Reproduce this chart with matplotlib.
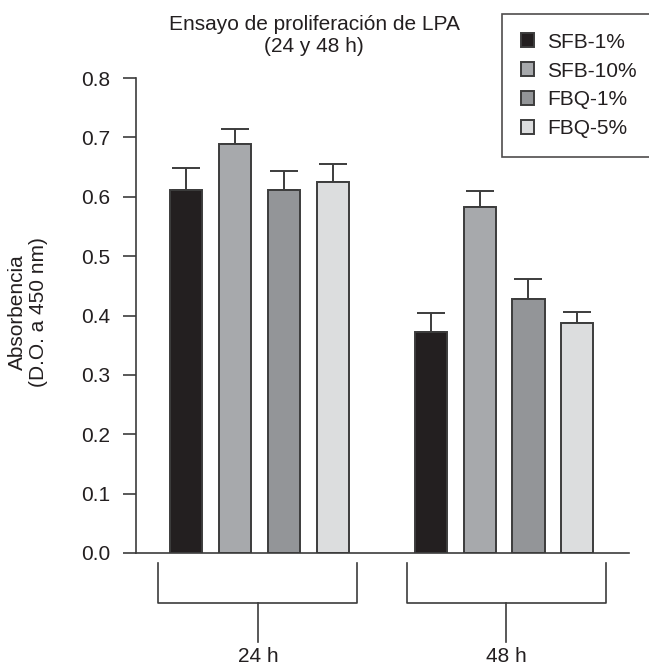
import numpy as np
import matplotlib.pyplot as plt

plt.rcParams['font.family'] = ['Liberation Sans', 'DejaVu Sans']

groups = ['24 h', '48 h']
series = ['SFB-1%', 'SFB-10%', 'FBQ-1%', 'FBQ-5%']
values = [[0.611, 0.372],
          [0.689, 0.583],
          [0.611, 0.428],
          [0.625, 0.387]]
errors = [[0.037, 0.032],
          [0.025, 0.027],
          [0.032, 0.033],
          [0.030, 0.019]]
colors = ['#231f20', '#a7a9ac', '#939598', '#dcddde']
title = 'Ensayo de proliferación de LPA\n(24 y 48 h)'
ylabel = 'Absorbencia\n(D.O. a 450 nm)'

txt = '#231f20'
edge = '#3c3c3c'
fs = 15
W, H = 649, 669
fig = plt.figure(figsize=(W / 100, H / 100), dpi=100)
# axes placed in pixel coords: x 136..629, y 78..553
ax = fig.add_axes([136 / W, 1 - 553 / H, (629 - 136) / W, (553 - 78) / H])

x = np.arange(len(groups))
offsets = [-0.3, -0.1, 0.1, 0.3]
width = 0.131
handles = []
for i, name in enumerate(series):
    b = ax.bar(x + offsets[i], values[i], width, color=colors[i],
               edgecolor=edge, linewidth=1.4, label=name, zorder=2)
    handles.append(b)
    yerr = [np.zeros(len(groups)), errors[i]]
    ax.errorbar(x + offsets[i], values[i], yerr=yerr, fmt='none',
                ecolor=edge, elinewidth=1.4, capsize=10, capthick=1.4, zorder=1)

ax.set_xlim(-0.505, 1.511)
ax.set_ylim(0, 0.8)
ax.set_yticks(np.arange(0, 0.81, 0.1))
ax.set_yticklabels([f'{v:.1f}' for v in np.arange(0, 0.81, 0.1)])
ax.set_xticks([])
ax.spines['top'].set_visible(False)
ax.spines['right'].set_visible(False)
for s in ['left', 'bottom']:
    ax.spines[s].set_color(edge)
    ax.spines[s].set_linewidth(1.2)
ax.tick_params(axis='y', direction='out', length=9.4, width=1.2, color=edge,
               pad=9, labelsize=fs, labelcolor=txt)

# group brackets under the axis (left, right, stem offsets from group centre)
brackets = [(-0.415, 0.399, -0.005), (-0.396, 0.418, 0.008)]
for gx, g, (l, r, m) in zip(x, groups, brackets):
    ax.plot([gx + l, gx + l, gx + r, gx + r],
            [-0.017, -0.084, -0.084, -0.017], color=edge, lw=1.2, clip_on=False)
    ax.plot([gx + m, gx + m], [-0.084, -0.150], color=edge, lw=1.2, clip_on=False)
    ax.text(gx + m, -0.175, g, ha='center', va='center', fontsize=fs, color=txt)

fig.text(314 / W, 1 - 35 / H, title, ha='center', va='center', fontsize=fs,
         color=txt, linespacing=1.2)
fig.text(28 / W, 1 - 312 / H, ylabel, ha='center', va='center', rotation=90,
         fontsize=fs, color=txt, linespacing=1.1)

leg = fig.legend(handles=handles, loc='upper left',
                 bbox_to_anchor=(502 / W, 1 - 14 / H), frameon=True,
                 fancybox=False, edgecolor=txt, fontsize=fs,
                 handlelength=0.65, handleheight=0.65, handletextpad=0.6,
                 labelspacing=0.47, borderpad=0.9, borderaxespad=0)
leg.get_frame().set_linewidth(1.2)
for t in leg.get_texts():
    t.set_color(txt)

fig.savefig('out.png', dpi=100)
